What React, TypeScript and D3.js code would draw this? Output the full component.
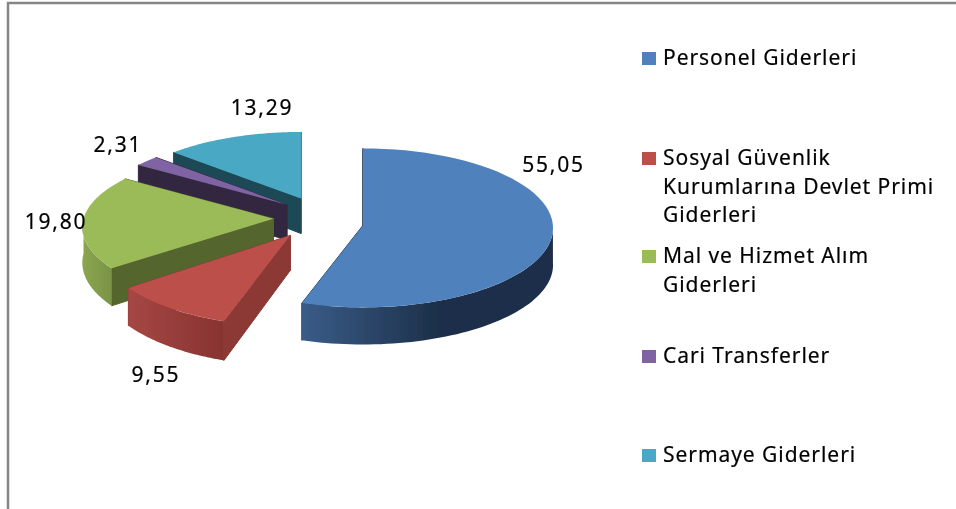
import React from "react";
import * as d3 from "d3";

const categories = ["Personel Giderleri", "Sosyal Güvenlik Kurumlarına Devlet Primi Giderleri", "Mal ve Hizmet Alım Giderleri", "Cari Transferler", "Sermaye Giderleri"];
const values = [55.05, 9.55, 19.8, 2.31, 13.29];
const valueLabels = ["55,05", "9,55", "19,80", "2,31", "13,29"];
const legendLines = [["Personel Giderleri"], ["Sosyal Güvenlik", "Kurumlarına Devlet Primi", "Giderleri"], ["Mal ve Hizmet Alım", "Giderleri"], ["Cari Transferler"], ["Sermaye Giderleri"]];
const topColors = ["#4f81bd", "#bd4f4c", "#9bbb59", "#8064a2", "#49a9c4"];
const radialColors = ["#1f3550", "#8c3836", "#55652d", "#33273f", "#1f4955"];
const rimFrom = ["#3a5c88", "#a54744", "#8aa650", "#5c4878", "#2a6a7a"];
const rimTo = ["#1c2f48", "#87332f", "#7a9346", "#33273f", "#1f4955"];

const W = 956, H = 509;
const cx = 319, cy = 218, explode = 44.5, tilt = 0.4, persp = 1700, R = 190, depth = 35;
const FONT = "'Noto Sans', sans-serif";

// small per-slice geometry corrections
const nudgeX = [0, -3, -1, 3, 0];
const nudgeY = [4, 0, 0, 0, 0];
const rScale = [1, 1, 1, 1, 0.97];
const tiltBySlice = [0.418, 0.425, tilt, tilt, tilt];
const perspBySlice = [6000, persp, persp, persp, persp];

const labelPos: [number, number][] = [[553.5, 172], [156, 382], [56, 229], [118, 152], [262, 115]];
const legendY = [58, 158, 256, 356, 455];

export default function App() {
  const arcs = d3.pie<number>().sort(null)(values);
  const line = d3.line<[number, number]>();
  const slices = arcs.map((a, i) => {
    const mid = (a.startAngle + a.endAngle) / 2;
    const ax = cx + explode * Math.sin(mid) + nudgeX[i];
    const ay = cy - explode * 0.48 * Math.cos(mid) + nudgeY[i];
    const pt = (th: number, rr: number, dz: number): [number, number] => {
      const wx = rr * rScale[i] * Math.sin(th), wy = -rr * rScale[i] * Math.cos(th);
      const p = 1 / (1 - wy / perspBySlice[i]);
      return [ax + wx * p, ay + wy * tiltBySlice[i] * p + dz * (i === 0 ? 1.06 : p)];
    };
    const sweep = (from: number, to: number, n = 60) => d3.range(0, n + 1).map((j) => from + ((to - from) * j) / n);
    const angles = sweep(a.startAngle, a.endAngle);
    const top = angles.map((t) => pt(t, R, 0));
    const apex = pt(0, 0, 0), apexB = pt(0, 0, depth);
    const face = line([apex, ...top]) + "Z";
    // only the part of the rim that faces the viewer has a visible wall
    const lo = Math.max(a.startAngle, Math.PI / 2), hi = Math.min(a.endAngle, (3 * Math.PI) / 2);
    const rimAngles = hi > lo ? sweep(lo, hi) : [];
    const rim = rimAngles.length
      ? line([...rimAngles.map((t) => pt(t, R, 0)), ...rimAngles.slice().reverse().map((t) => pt(t, R, depth))]) + "Z"
      : "";
    const w1 = line([apex, top[0], pt(a.startAngle, R, depth), apexB]) + "Z";
    const w2 = line([apex, top[60], pt(a.endAngle, R, depth), apexB]) + "Z";
    return { i, face, rim, w1, w2 };
  });
  const order = [4, 3, 2, 1, 0];
  return (
    <svg width={W} height={H} viewBox={`0 0 ${W} ${H}`} style={{ position: "fixed", left: 0, top: 0, background: "#fff" }}>
      <defs>
        {topColors.map((_, i) => (
          <linearGradient key={i} id={`rim${i}`} x1="0" x2="1" y1="0" y2="0">
            <stop offset="0" stopColor={rimFrom[i]} />
            <stop offset={i === 0 ? 0.55 : 1} stopColor={rimTo[i]} />
          </linearGradient>
        ))}
        <filter id="soft" x="-5%" y="-5%" width="110%" height="110%">
          <feGaussianBlur stdDeviation="0.4" />
        </filter>
      </defs>
      <path d="M8 509V3H956" fill="none" stroke="#868686" strokeWidth={2.5} />
      <g filter="url(#soft)">
        {order.map((i) => {
          const s = slices[i];
          return (
            <g key={categories[i]}>
              <path d={s.w1} fill={radialColors[i]} stroke={radialColors[i]} strokeWidth={1} />
              <path d={s.w2} fill={radialColors[i]} stroke={radialColors[i]} strokeWidth={1} />
              {s.rim && <path d={s.rim} fill={`url(#rim${i})`} />}
              <path d={s.face} fill={topColors[i]} />
            </g>
          );
        })}
      </g>
      <g fontFamily={FONT} fontSize={21} fill="#000" stroke="#000" strokeWidth={0.2} filter="url(#soft)">
        {valueLabels.map((t, i) => (
          <text key={t} x={labelPos[i][0]} y={labelPos[i][1]} textAnchor="middle" letterSpacing={1.8}>{t}</text>
        ))}
        {legendLines.map((lines, i) => (
          <g key={i}>
            <rect x={642} y={legendY[i] - 6} width={14} height={13} fill={topColors[i]} stroke="none" />
            {lines.map((l, j) => (
              <text key={l + j} x={663} y={legendY[i] + 7 + j * 28.5} letterSpacing={0.95}>{l}</text>
            ))}
          </g>
        ))}
      </g>
    </svg>
  );
}
